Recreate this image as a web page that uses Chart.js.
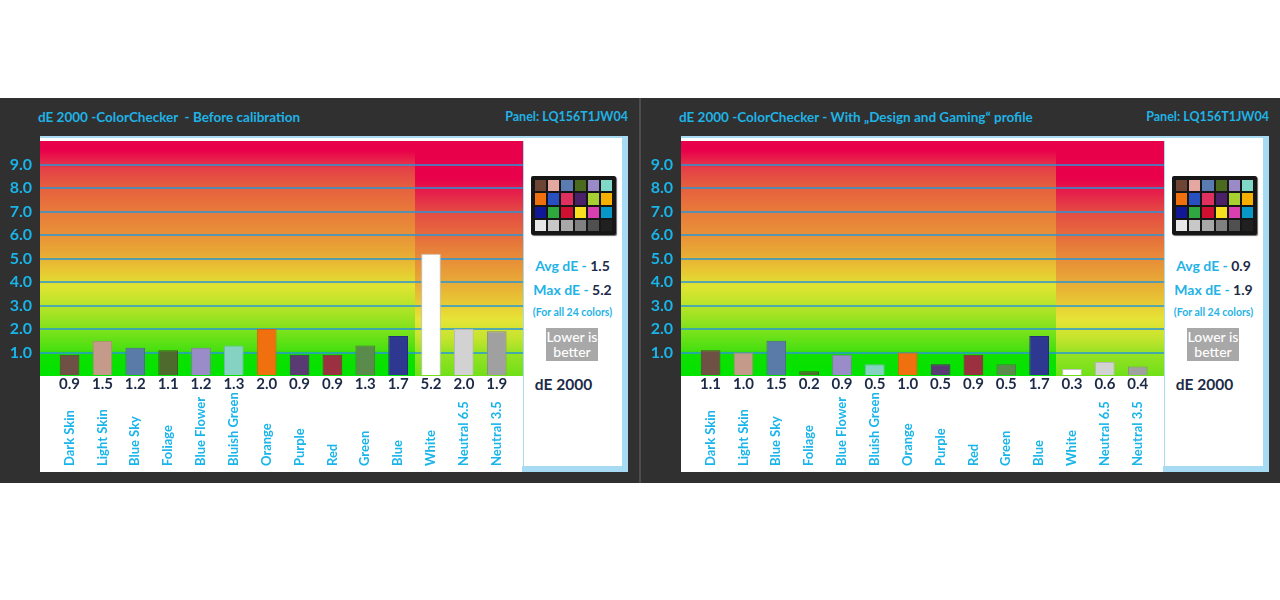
<!DOCTYPE html>
<html><head><meta charset="utf-8">
<script src="https://cdn.jsdelivr.net/npm/chart.js@4.4.1/dist/chart.umd.min.js"></script>
<style>
body{margin:0;background:#fff;width:1280px;height:600px;position:relative;overflow:hidden;font-family:Lato,'Open Sans',sans-serif;}
.panel{position:absolute;top:98px;width:639px;height:385px;background:#303030;}
.sep{position:absolute;left:639px;top:98px;width:2px;height:385px;background:#4c4c4c;}
.title{position:absolute;top:11px;left:38px;color:#1fb3e6;font-weight:700;font-size:13.5px;white-space:pre;line-height:16px;}
.pn{position:absolute;top:11px;right:11px;color:#1fb3e6;font-weight:700;font-size:12.5px;line-height:16px;}
.inner{position:absolute;left:40px;top:38px;width:582px;height:334px;background:#fff;border-top:2px solid #a6dbf3;}
.rshadow{position:absolute;left:622px;top:38px;width:6px;height:336px;background:#a6dbf3;}
.bshadow{position:absolute;left:522px;top:368px;width:106px;height:6px;background:#a6dbf3;}
.vline{position:absolute;left:523px;top:43px;width:1px;height:325px;background:#a6dbf3;}
canvas{position:absolute;left:0;top:0;}
.checker{position:absolute;left:531px;top:78px;width:85px;height:59px;box-sizing:border-box;background:#161616;border-radius:2px;padding:4px 4px;display:grid;grid-template-columns:repeat(6,1fr);grid-template-rows:repeat(4,1fr);gap:2px;box-shadow:1px 1px 1px #666;}
.txt{position:absolute;left:523px;width:99px;text-align:center;font-weight:700;white-space:nowrap;}
.cy{color:#1fb3e6}.nv{color:#1c2a48}
.lower{position:absolute;left:546px;top:230px;width:52px;height:33px;background:#a8a8a8;color:#fff;font-size:14px;line-height:15px;text-align:center;padding-top:1px;box-sizing:border-box;font-weight:500;white-space:nowrap;display:flex;flex-direction:column;align-items:center;}
</style></head>
<body>
<div id="root"></div>
<script>
const categories = ['Dark Skin','Light Skin','Blue Sky','Foliage','Blue Flower','Bluish Green','Orange','Purple','Red','Green','Blue','White','Neutral 6.5','Neutral 3.5'];
const beforeValues = [0.9,1.5,1.2,1.1,1.2,1.3,2.0,0.9,0.9,1.3,1.7,5.2,2.0,1.9];
const profileValues = [1.1,1.0,1.5,0.2,0.9,0.5,1.0,0.5,0.9,0.5,1.7,0.3,0.6,0.4];
const titles = ['dE 2000 -ColorChecker  - Before calibration','dE 2000 -ColorChecker - With \u201EDesign and Gaming\u201C profile'];
const panelLabel = 'Panel: LQ156T1JW04';
const avgDE = ['1.5','0.9'];
const maxDE = ['5.2','1.9'];
const yTickValues = [1,2,3,4,5,6,7,8,9];

const barColors = ['#6e5044','#c49a8a','#5a7aa8','#4e6a2c','#9a8cc8','#86d2c2','#f07010','#5a3a72','#9a3040','#5a8a4c','#2e3890','#ffffff','#d2d2d2','#a0a0a0'];
const barBorders = ['#5a4034','#b08474','#4a6690','#3e5a20','#8676b2','#6cbcaa','#d86008','#4a2c60','#822838','#4a7840','#242e7c','#c4c4c4','#b8b8b8','#888888'];
const checkerColors = ['#6e4434','#e4a8a0','#5a7cb0','#4a6a20','#9a8ac8','#80d8c8','#f07010','#2850c0','#e03060','#4a2068','#a8d030','#f8b000','#101898','#30a840','#d01030','#f8e020','#d840b0','#0898c8','#e8e8e8','#c8c8c8','#a8a8a8','#808080','#505050','#202020'];
const leftStops = [[0,'#00e400'],[0.9,'#10e000'],[1.1,'#48e010'],[2,'#80e21c'],[3,'#b8e428'],[3.8,'#dee432'],[4.5,'#e8c632'],[5.2,'#e8aa34'],[6,'#e89238'],[7,'#e87a3a'],[8,'#e6603e'],[8.8,'#e44246'],[9.3,'#e8184a'],[9.6,'#e8004a'],[10,'#e8004a']];
const rightStops = [[0,'#70e018'],[1,'#98e224'],[1.6,'#c4e42e'],[2.4,'#e6e436'],[3.2,'#e8c634'],[4,'#e8aa36'],[5,'#e88c38'],[6,'#e66c3c'],[7,'#e44a44'],[7.8,'#e6204a'],[8.4,'#e8004a'],[10,'#e8004a']];

const bgPlugin = {id:'bg', beforeDraw(chart){
  const {ctx, chartArea:a, scales:{x,y}} = chart;
  const split = Math.round(x.getPixelForValue(categories.indexOf('White') - 0.5));
  const top = Math.floor(a.top), bot = Math.ceil(a.bottom), left = Math.floor(a.left), right = Math.ceil(a.right);
  const mk = stops => { const g = ctx.createLinearGradient(0, y.getPixelForValue(0), 0, y.getPixelForValue(10)); stops.forEach(([v,c]) => g.addColorStop(v/10, c)); return g; };
  ctx.save();
  ctx.fillStyle = mk(leftStops); ctx.fillRect(left, top, split - left, bot - top);
  ctx.fillStyle = mk(rightStops); ctx.fillRect(split, top, right - split, bot - top);
  ctx.restore();
}};
const namesPlugin = {id:'names', afterDraw(chart){
  const {ctx, scales:{x}} = chart;
  ctx.save();
  ctx.fillStyle = '#19b5ea'; ctx.font = 'bold 13px Lato'; ctx.textBaseline = 'middle'; ctx.textAlign = 'left';
  categories.forEach((c,i) => { ctx.save(); ctx.translate(x.getPixelForValue(i), chart.chartArea.bottom + 90); ctx.rotate(-Math.PI/2); ctx.fillText(c, 0, 0); ctx.restore(); });
  ctx.restore();
}};

function makePanel(idx, values){
  const p = document.createElement('div');
  p.className = 'panel'; p.style.left = (idx*641) + 'px';
  p.innerHTML = `<div class="title">${titles[idx]}</div><div class="pn">${panelLabel}</div>
   <div class="inner"></div><div class="rshadow"></div><div class="bshadow"></div><div class="vline"></div>
   <div class="checker">${checkerColors.map(c=>`<div style="background:${c}"></div>`).join('')}</div>
   <div class="txt" style="top:159px;font-size:14px;"><span class="cy">Avg dE - </span><span class="nv">${avgDE[idx]}</span></div>
   <div class="txt" style="top:183px;font-size:14px;"><span class="cy">Max dE - </span><span class="nv">${maxDE[idx]}</span></div>
   <div class="txt cy" style="top:208px;font-size:10.5px;">(For all 24 colors)</div>
   <div class="lower"><span>Lower is</span><span>better</span></div>
   <div class="txt nv" style="top:277px;left:514px;font-size:15.5px;">dE 2000</div>
   <canvas width="639" height="385"></canvas>`;
  document.getElementById('root').appendChild(p);
  const cv = p.querySelector('canvas');
  new Chart(cv, {
    type:'bar',
    data:{datasets:[{data: values.map((v,i)=>({x:i,y:v})), backgroundColor: barColors, borderColor: barBorders, borderWidth:1, barPercentage:0.6, categoryPercentage:1}]},
    options:{
      responsive:false, animation:false, devicePixelRatio:1,
      layout:{padding:{top:43,right:116,bottom:77,left:0}},
      plugins:{legend:{display:false}, tooltip:{enabled:false}},
      scales:{
        x:{type:'linear', offset:false, min:-0.9, max:13.8, grid:{display:false, drawTicks:false}, border:{display:false},
          afterBuildTicks: s => { s.ticks = categories.map((c,i)=>({value:i})); },
          afterFit: s => { s.height = 30; },
          ticks:{autoSkip:false, maxRotation:0, minRotation:0, padding:-1, color:'#1c2a48', font:{family:'Lato', size:15, weight:'bold'}, callback:(v,i)=>values[i].toFixed(1)}},
        y:{min:0, max:10, afterFit: s => { s.width = 40; },
          afterBuildTicks: s => { s.ticks = [0].concat(yTickValues, [10]).map(v=>({value:v})); },
          grid:{drawTicks:false, lineWidth:2, color: c => yTickValues.includes(c.tick.value) ? 'rgba(40,150,215,0.75)' : 'rgba(0,0,0,0)'},
          border:{display:false},
          ticks:{padding:8, color:'#19b5ea', font:{family:'Lato', size:16, weight:'bold'}, callback: v => yTickValues.includes(v) ? v.toFixed(1) : ''}}
      }
    },
    plugins:[bgPlugin, namesPlugin]
  });
}
document.body.insertAdjacentHTML('beforeend','<div class="sep"></div>');
makePanel(0, beforeValues);
makePanel(1, profileValues);
</script>
</body></html>
